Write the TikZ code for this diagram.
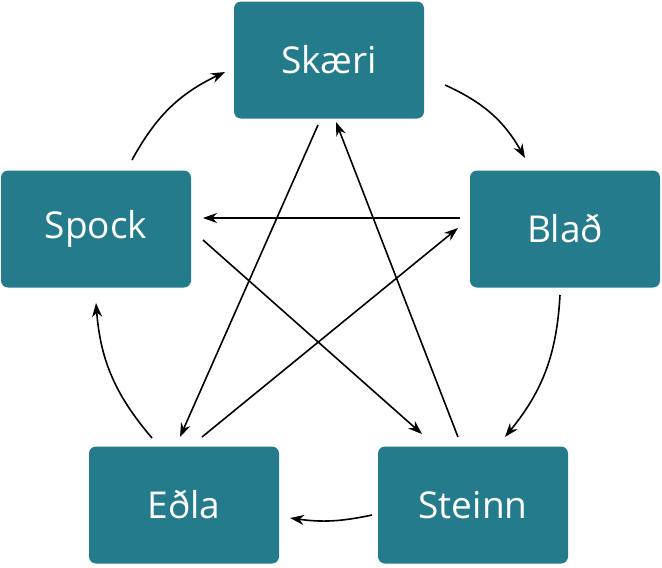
\documentclass[tikz,border=0pt]{standalone}
\usepackage{fontspec}
\setmainfont{Open Sans}
\usetikzlibrary{arrows.meta}
\definecolor{teal1}{HTML}{247B8B}
\begin{document}
\begin{tikzpicture}[x=1pt,y=-1pt,
  box/.style={fill=teal1,rounded corners=7pt,minimum width=190pt,minimum height=117pt,text=white,font=\fontsize{37}{40}\selectfont,inner sep=0pt},
  arr/.style={-{Stealth[length=14pt,width=10pt]},line width=1.6pt,black}]
\useasboundingbox (0,0) rectangle (662,568);
\node[box] (sk) at (329,60) {Skæri};
\node[box] (sp) at (96,229) {Spock};
\node[box] (bl) at (565,229) {Blað};
\node[box] (ed) at (184,505) {Eðla};
\node[box] (st) at (473,505) {Steinn};
% endpoints
\coordinate (a1) at (445,85); \coordinate (a2) at (525,158);
\coordinate (b1) at (560,295); \coordinate (b2) at (505,437);
\coordinate (c1) at (372,515); \coordinate (c2) at (290,518);
\coordinate (d1) at (152,438); \coordinate (d2) at (96,303);
\coordinate (e1) at (132,160); \coordinate (e2) at (225,72);
\draw[arr] (a1) to[bend left=18] (a2);
\draw[arr] (b1) to[bend left=18] (b2);
\draw[arr] (c1) to[bend left=10] (c2);
\draw[arr] (d1) to[bend left=18] (d2);
\draw[arr] (e1) to[bend left=18] (e2);
\coordinate (f1) at (460,218); \coordinate (f2) at (203,218);
\coordinate (g1) at (203,240); \coordinate (g2) at (422,434);
\coordinate (h1) at (458,437); \coordinate (h2) at (336,122);
\coordinate (i1) at (318,125); \coordinate (i2) at (180,437);
\coordinate (j1) at (202,437); \coordinate (j2) at (458,228);
\draw[arr] (f1) -- (f2);
\draw[arr] (g1) -- (g2);
\draw[arr] (h1) -- (h2);
\draw[arr] (i1) -- (i2);
\draw[arr] (j1) -- (j2);
\end{tikzpicture}
\end{document}
